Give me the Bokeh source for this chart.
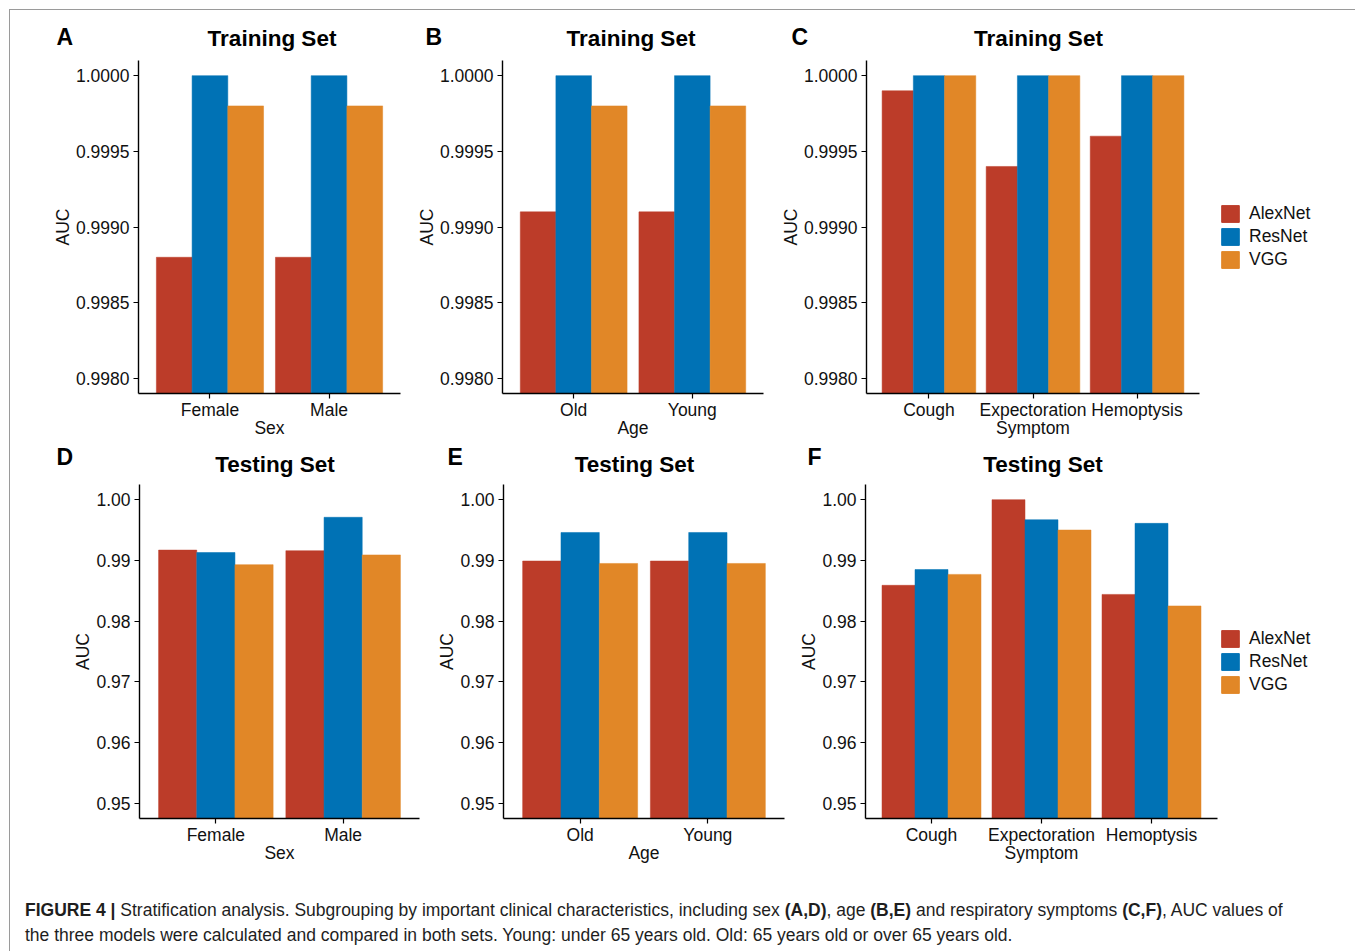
from bokeh.plotting import figure
from bokeh.models import (ColumnDataSource, FactorRange, FixedTicker, Legend,
                          LegendItem, Div, NumeralTickFormatter, Range1d)
from bokeh.core.properties import value
from bokeh.transform import dodge
from bokeh.layouts import row, column
from bokeh.embed import file_html
from bokeh.resources import INLINE

# ---------------- data ----------------
models = ["AlexNet", "ResNet", "VGG"]
model_colors = ["#BC3C29", "#0072B5", "#E18727"]

sex_cats = ["Female", "Male"]
age_cats = ["Old", "Young"]
sym_cats = ["Cough", "Expectoration", "Hemoptysis"]

train_sex_alexnet = [0.9988, 0.9988]
train_sex_resnet = [1.0000, 1.0000]
train_sex_vgg = [0.9998, 0.9998]

train_age_alexnet = [0.9991, 0.9991]
train_age_resnet = [1.0000, 1.0000]
train_age_vgg = [0.9998, 0.9998]

train_sym_alexnet = [0.9999, 0.9994, 0.9996]
train_sym_resnet = [1.0000, 1.0000, 1.0000]
train_sym_vgg = [1.0000, 1.0000, 1.0000]

test_sex_alexnet = [0.9917, 0.9916]
test_sex_resnet = [0.9913, 0.9971]
test_sex_vgg = [0.9893, 0.9909]

test_age_alexnet = [0.9899, 0.9899]
test_age_resnet = [0.9946, 0.9946]
test_age_vgg = [0.9895, 0.9895]

test_sym_alexnet = [0.9859, 1.0000, 0.9844]
test_sym_resnet = [0.9885, 0.9967, 0.9961]
test_sym_vgg = [0.9877, 0.9950, 0.9825]

train_ticks = [0.9980, 0.9985, 0.9990, 0.9995, 1.0000]
test_ticks = [0.95, 0.96, 0.97, 0.98, 0.99, 1.00]

panel_letters_top = ["A", "B", "C"]
panel_letters_bottom = ["D", "E", "F"]
title_top = "Training Set"
title_bottom = "Testing Set"

FONT = "Liberation Sans"
TXT = "17.5px"
W = 1341


def bare(width, height, bb=0):
    f = figure(width=width, height=height, x_range=Range1d(0, width),
               y_range=Range1d(0, height), min_border_left=0,
               min_border_right=0, min_border_top=0, min_border_bottom=bb,
               x_axis_type=None, y_axis_type=None, output_backend="svg",
               toolbar_location=None)
    f.outline_line_color = None
    f.xgrid.visible = False
    f.ygrid.visible = False
    return f


def header(height, letters, letter_x, letter_y, title, title_x, title_y):
    h = bare(W, height)
    h.text(x=letter_x, y=[letter_y] * 3, text=letters, text_font=value(FONT),
           text_font_size="23px", text_font_style="bold", text_baseline="middle",
           text_align="left", text_color="black")
    h.text(x=title_x, y=[title_y] * 3, text=[title] * 3, text_font=value(FONT),
           text_font_size="22.5px", text_font_style="bold", text_baseline="middle",
           text_align="center", text_color="black")
    return h


def legend_fig(width, height, bb, loc):
    f = bare(width, height, bb)
    # hidden proxy renderers: they only provide the legend swatches
    proxy = ColumnDataSource(dict(x=[0], top=[0]))
    items = []
    for m, c in zip(models, model_colors):
        r = f.vbar(x="x", top="top", width=0, source=proxy,
                   fill_color=c, line_color=c, visible=False)
        items.append(LegendItem(label=m, renderers=[r]))
    leg = Legend(items=items, location=loc, orientation="vertical",
                 glyph_width=22, glyph_height=21, label_height=21,
                 spacing=2, padding=0, margin=0, label_standoff=8,
                 border_line_color=None, background_fill_alpha=0,
                 inactive_fill_alpha=0, click_policy="none",
                 label_text_font=FONT, label_text_font_size=TXT,
                 label_text_color="#111111")
    f.add_layout(leg)
    return f


def panel(cats, xlabel, alex, res, vgg, ticks, fmt, width, height, bl, br, bb):
    lo, hi = ticks[0], ticks[-1]
    pad = (hi - lo) * 0.05
    p = figure(x_range=FactorRange(factors=cats, range_padding=0.1,
                                   range_padding_units="absolute"),
               y_range=(lo - pad, hi + pad),
               width=width, height=height,
               min_border_left=bl, min_border_right=br,
               min_border_top=0, min_border_bottom=bb,
               output_backend="svg", toolbar_location=None)
    src = ColumnDataSource(dict(cat=cats, AlexNet=alex, ResNet=res, VGG=vgg,
                                base=[lo - pad] * len(cats)))
    for i, (m, c) in enumerate(zip(models, model_colors)):
        p.vbar(x=dodge("cat", (i - 1) * 0.3, range=p.x_range), top=m,
               bottom="base", width=0.3, source=src,
               fill_color=c, line_color=c, line_width=0.5)

    p.xgrid.visible = False
    p.ygrid.visible = False
    p.outline_line_color = None

    for ax in (p.xaxis[0], p.yaxis[0]):
        ax.axis_line_color = "black"
        ax.axis_line_width = 1.4
        ax.major_tick_line_color = "black"
        ax.major_tick_line_width = 1.2
        ax.major_tick_out = 5
        ax.major_tick_in = 0
        ax.minor_tick_line_color = None
        ax.major_label_text_font = FONT
        ax.major_label_text_font_size = TXT
        ax.major_label_text_color = "#111111"
        ax.axis_label_text_font = FONT
        ax.axis_label_text_font_size = TXT
        ax.axis_label_text_font_style = "normal"
        ax.axis_label_text_color = "#111111"

    p.xaxis.axis_label = xlabel
    p.xaxis.major_label_standoff = 1
    p.xaxis.axis_label_standoff = -5
    p.yaxis.axis_label = "AUC"
    p.yaxis.major_label_standoff = 4
    p.yaxis.axis_label_standoff = 0
    p.yaxis.ticker = FixedTicker(ticks=ticks)
    p.yaxis.formatter = NumeralTickFormatter(format=fmt)
    return p


# ---- row 1 (header 50 px + plots 383 px) ----
head1 = header(50, panel_letters_top, [46, 415, 781], 24,
               title_top, [261.5, 620.5, 1028], 22)
pA = panel(sex_cats, "Sex", train_sex_alexnet, train_sex_resnet, train_sex_vgg,
           train_ticks, "0.0000", 400, 383, 128, 10, 50)
pB = panel(age_cats, "Age", train_age_alexnet, train_age_resnet, train_age_vgg,
           train_ticks, "0.0000", 360, 383, 92, 7, 50)
pC = panel(sym_cats, "Symptom", train_sym_alexnet, train_sym_resnet,
           train_sym_vgg, train_ticks, "0.0000", 439, 383, 96, 10, 50)
lC = legend_fig(142, 383, 50, (10, 123))

# ---- row 2 (header 41 px + plots 386 px) ----
head2 = header(41, panel_letters_bottom, [46, 437, 797], 27.5,
               title_bottom, [264.5, 624, 1032.5], 20)
pD = panel(sex_cats, "Sex", test_sex_alexnet, test_sex_resnet, test_sex_vgg,
           test_ticks, "0.00", 420, 386, 129, 11, 52)
pE = panel(age_cats, "Age", test_age_alexnet, test_age_resnet, test_age_vgg,
           test_ticks, "0.00", 360, 386, 73, 6, 52)
pF = panel(sym_cats, "Symptom", test_sym_alexnet, test_sym_resnet, test_sym_vgg,
           test_ticks, "0.00", 428, 386, 75, 1, 52)
lF = legend_fig(133, 386, 52, (1, 123))

caption_html = (
    '<div style="padding:23px 0 0 10px; font-family:\'Liberation Sans\', Arial, sans-serif;'
    ' font-size:17.5px; line-height:25px; color:#1e1e1e; white-space:nowrap;">'
    '<b>FIGURE 4 |</b> Stratification analysis. Subgrouping by important clinical '
    'characteristics, including sex <b>(A,D)</b>, age <b>(B,E)</b> and respiratory '
    'symptoms <b>(C,F)</b>, AUC values of<br>'
    'the three models were calculated and compared in both sets. Young: under 65 '
    'years old. Old: 65 years old or over 65 years old.</div>'
)
caption = Div(text=caption_html, width=W, height=80)

layout = column(
    head1,
    row(pA, pB, pC, lC),
    head2,
    row(pD, pE, pF, lF),
    caption,
    styles={"margin-left": "9px", "margin-top": "9px",
            "border-top": "1px solid #9a9a9a",
            "border-left": "1px solid #9a9a9a",
            "border-right": "1px solid #9a9a9a",
            "background": "white"})

open("out.html", "w").write(file_html(layout, INLINE))
